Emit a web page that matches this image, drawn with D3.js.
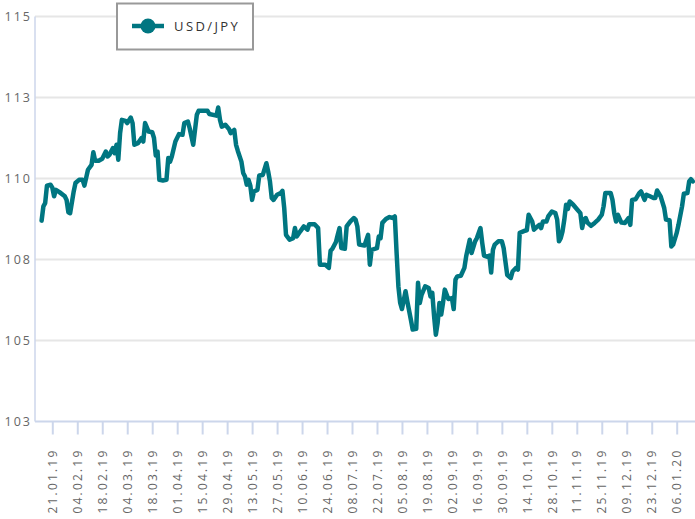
<!DOCTYPE html>
<html>
<head>
<meta charset="utf-8">
<script src="https://cdn.jsdelivr.net/npm/d3@7"></script>
<style>
  body { margin: 0; background: #fff; }
  text { font-family: "Open Sans", sans-serif; }
</style>
</head>
<body>
<svg id="chart"></svg>
<script>
const width = 695;
const height = 519;

const seriesName = "USD/JPY";

const dates = [
  "2019-01-15","2019-01-16","2019-01-17","2019-01-18","2019-01-20","2019-01-21","2019-01-22","2019-01-23","2019-01-25","2019-01-28",
  "2019-01-29","2019-01-30","2019-01-31","2019-02-02","2019-02-03","2019-02-05","2019-02-07","2019-02-08","2019-02-10","2019-02-12",
  "2019-02-13","2019-02-14","2019-02-16","2019-02-18","2019-02-20","2019-02-21","2019-02-22","2019-02-24","2019-02-25","2019-02-26",
  "2019-02-27","2019-02-28","2019-03-01","2019-03-03","2019-03-04","2019-03-06","2019-03-07","2019-03-08","2019-03-10","2019-03-12",
  "2019-03-13","2019-03-14","2019-03-16","2019-03-18","2019-03-19","2019-03-20","2019-03-21","2019-03-22","2019-03-24","2019-03-26",
  "2019-03-27","2019-03-28","2019-03-29","2019-03-31","2019-04-02","2019-04-04","2019-04-05","2019-04-07","2019-04-08","2019-04-10",
  "2019-04-12","2019-04-13","2019-04-18","2019-04-19","2019-04-23","2019-04-24","2019-04-25","2019-04-26","2019-04-28","2019-04-30",
  "2019-05-01","2019-05-03","2019-05-04","2019-05-05","2019-05-07","2019-05-08","2019-05-09","2019-05-10","2019-05-11","2019-05-12",
  "2019-05-13","2019-05-14","2019-05-16","2019-05-17","2019-05-19","2019-05-21","2019-05-22","2019-05-23","2019-05-24","2019-05-25",
  "2019-05-27","2019-05-29","2019-05-30","2019-05-31","2019-06-01","2019-06-03","2019-06-05","2019-06-06","2019-06-07","2019-06-09",
  "2019-06-11","2019-06-13","2019-06-14","2019-06-17","2019-06-19","2019-06-20","2019-06-23","2019-06-25","2019-06-26","2019-06-27",
  "2019-06-29","2019-06-30","2019-07-01","2019-07-02","2019-07-04","2019-07-05","2019-07-07","2019-07-09","2019-07-10","2019-07-11",
  "2019-07-12","2019-07-15","2019-07-17","2019-07-18","2019-07-19","2019-07-22","2019-07-23","2019-07-24","2019-07-25","2019-07-27",
  "2019-07-29","2019-07-31","2019-08-01","2019-08-02","2019-08-03","2019-08-04","2019-08-05","2019-08-07","2019-08-08","2019-08-10",
  "2019-08-11","2019-08-13","2019-08-14","2019-08-15","2019-08-16","2019-08-18","2019-08-20","2019-08-21","2019-08-22","2019-08-23",
  "2019-08-24","2019-08-25","2019-08-26","2019-08-27","2019-08-28","2019-08-29","2019-08-31","2019-09-02","2019-09-03","2019-09-04",
  "2019-09-05","2019-09-07","2019-09-09","2019-09-10","2019-09-12","2019-09-13","2019-09-15","2019-09-16","2019-09-18","2019-09-19",
  "2019-09-20","2019-09-22","2019-09-23","2019-09-24","2019-09-25","2019-09-26","2019-09-28","2019-09-30","2019-10-01","2019-10-03",
  "2019-10-05","2019-10-06","2019-10-08","2019-10-09","2019-10-10","2019-10-13","2019-10-14","2019-10-15","2019-10-17","2019-10-18",
  "2019-10-20","2019-10-21","2019-10-22","2019-10-23","2019-10-25","2019-10-26","2019-10-28","2019-10-30","2019-10-31","2019-11-01",
  "2019-11-02","2019-11-03","2019-11-04","2019-11-05","2019-11-06","2019-11-07","2019-11-09","2019-11-11","2019-11-13","2019-11-14",
  "2019-11-15","2019-11-16","2019-11-17","2019-11-19","2019-11-21","2019-11-23","2019-11-25","2019-11-26","2019-11-27","2019-11-30",
  "2019-12-01","2019-12-02","2019-12-03","2019-12-04","2019-12-06","2019-12-08","2019-12-10","2019-12-11","2019-12-12","2019-12-14",
  "2019-12-16","2019-12-17","2019-12-19","2019-12-20","2019-12-22","2019-12-24","2019-12-25","2019-12-26","2019-12-28","2019-12-30",
  "2019-12-31","2020-01-02","2020-01-03","2020-01-04","2020-01-06","2020-01-07","2020-01-09","2020-01-10","2020-01-12","2020-01-13",
  "2020-01-14","2020-01-15"
];

const rates = [
  108.70,109.14,109.24,109.78,109.81,109.72,109.45,109.65,109.58,109.45,
  109.34,108.96,108.93,109.60,109.86,109.96,109.96,109.78,110.27,110.42,
  110.81,110.55,110.55,110.61,110.83,110.68,110.73,110.94,110.78,111.04,
  110.58,111.40,111.81,111.78,111.71,111.88,111.71,111.04,111.09,111.25,
  111.14,111.71,111.45,111.43,111.25,110.71,110.83,109.96,109.94,109.96,
  110.63,110.52,110.68,111.14,111.37,111.35,111.71,111.76,111.55,111.04,
  111.96,112.09,112.09,111.99,111.94,112.19,111.81,111.60,111.66,111.53,
  111.40,111.50,111.04,110.85,110.52,110.17,110.06,109.81,109.96,109.78,
  109.34,109.60,109.65,110.09,110.11,110.47,110.22,109.91,109.40,109.34,
  109.50,109.55,109.62,109.09,108.26,108.11,108.16,108.47,108.21,108.37,
  108.52,108.42,108.59,108.59,108.47,107.34,107.34,107.24,107.77,107.83,
  108.04,108.26,108.47,107.85,107.83,108.52,108.67,108.78,108.73,108.52,
  107.96,107.93,108.26,107.34,107.80,107.85,108.21,108.16,108.63,108.75,
  108.81,108.78,108.83,107.70,106.67,106.16,105.97,106.52,106.21,105.64,
  105.34,105.36,106.78,106.16,106.41,106.67,106.62,106.36,106.47,105.75,
  105.18,105.54,106.16,105.80,106.16,106.57,106.28,106.31,105.97,106.88,
  106.98,107.00,107.24,107.60,108.11,107.70,108.06,108.16,108.47,108.01,
  107.62,107.58,107.62,107.10,107.80,107.96,108.06,108.06,107.85,107.02,
  106.93,107.13,107.24,107.19,108.32,108.39,108.40,108.88,108.67,108.42,
  108.52,108.57,108.47,108.67,108.67,108.83,108.98,108.93,108.73,108.06,
  108.16,108.37,108.73,109.19,109.06,109.29,109.19,109.06,108.93,108.47,
  108.73,108.78,108.64,108.54,108.63,108.73,108.88,109.14,109.55,109.55,
  109.34,108.93,108.67,108.88,108.64,108.63,108.78,108.57,109.34,109.36,
  109.55,109.60,109.34,109.50,109.45,109.40,109.40,109.63,109.45,109.09,
  108.73,108.71,107.90,107.96,108.32,108.57,109.14,109.53,109.55,109.91,
  109.98,109.91
];

const xTickLabels = [
  "21.01.19","04.02.19","18.02.19","04.03.19","18.03.19","01.04.19","15.04.19",
  "29.04.19","13.05.19","27.05.19","10.06.19","24.06.19","08.07.19","22.07.19",
  "05.08.19","19.08.19","02.09.19","16.09.19","30.09.19","14.10.19","28.10.19",
  "11.11.19","25.11.19","09.12.19","23.12.19","06.01.20"
];

const yTicks = [102.5, 105, 107.5, 110, 112.5, 115];

const parseDate = d3.timeParse("%Y-%m-%d");
const parseTick = d3.timeParse("%d.%m.%y");
const formatTick = d3.timeFormat("%d.%m.%y");

const data = dates.map((d, i) => ({ date: parseDate(d), value: rates[i] }));
const tickDates = xTickLabels.map(parseTick);

const plotLeft = 35, plotRight = 695, plotTop = 16.5, plotBottom = 421.5;

const svg = d3.select("#chart").attr("width", width).attr("height", height);

const x = d3.scaleTime()
  .domain([tickDates[0], tickDates[tickDates.length - 1]])
  .range([52.3, 676.7]);

const y = d3.scaleLinear()
  .domain([102.5, 115])
  .range([plotBottom, plotTop]);

// grid lines
svg.append("g")
  .selectAll("line")
  .data(yTicks.slice(1))
  .enter().append("line")
  .attr("x1", plotLeft)
  .attr("x2", plotRight)
  .attr("y1", d => y(d))
  .attr("y2", d => y(d))
  .attr("stroke", "#e6e6e6")
  .attr("stroke-width", 2);

// y axis labels
const yAxis = svg.append("g")
  .attr("transform", `translate(${plotLeft},0)`)
  .call(d3.axisLeft(y).tickValues(yTicks).tickSize(0).tickPadding(3).tickFormat(d3.format(".0f")));
yAxis.select(".domain").remove();
yAxis.selectAll("text")
  .attr("fill", "#666")
  .style("font-size", "12.5px")
  .style("letter-spacing", "2px");

svg.append("line")
  .attr("x1", plotLeft).attr("x2", plotLeft)
  .attr("y1", plotTop).attr("y2", plotBottom)
  .attr("stroke", "#ccd6eb")
  .attr("stroke-width", 1.5);

// x axis
const xAxis = svg.append("g")
  .attr("transform", `translate(0,${plotBottom})`)
  .call(d3.axisBottom(x).tickValues(tickDates).tickSize(13).tickFormat(formatTick));
xAxis.select(".domain")
  .attr("d", `M${plotLeft},0H${plotRight}`)
  .attr("stroke", "#ccd6eb")
  .attr("stroke-width", 2);
xAxis.selectAll(".tick line")
  .attr("stroke", "#ccd6eb")
  .attr("stroke-width", 2);
xAxis.selectAll("text")
  .attr("transform", "rotate(-90)")
  .attr("x", -27)
  .attr("y", 0)
  .attr("dy", "0.35em")
  .attr("text-anchor", "end")
  .attr("fill", "#666")
  .style("font-size", "12px")
  .style("letter-spacing", "2.2px");

// series
const line = d3.line()
  .x(d => x(d.date))
  .y(d => y(d.value));

svg.append("path")
  .datum(data)
  .attr("d", line)
  .attr("fill", "none")
  .attr("stroke", "#007681")
  .attr("stroke-width", 4.5)
  .attr("stroke-linejoin", "round")
  .attr("stroke-linecap", "round");

// legend
const legend = svg.append("g");
legend.append("rect")
  .attr("x", 117).attr("y", 3.5)
  .attr("width", 136).attr("height", 46)
  .attr("fill", "#fff")
  .attr("stroke", "#999")
  .attr("stroke-width", 2);
legend.append("line")
  .attr("x1", 132).attr("x2", 164)
  .attr("y1", 26).attr("y2", 26)
  .attr("stroke", "#007681")
  .attr("stroke-width", 4.5);
legend.append("circle")
  .attr("cx", 148).attr("cy", 26).attr("r", 7.5)
  .attr("fill", "#007681");
legend.append("text")
  .attr("x", 174).attr("y", 26)
  .attr("dy", "0.35em")
  .attr("fill", "#333")
  .style("font-size", "13px")
  .style("letter-spacing", "2.4px")
  .text(seriesName);
</script>
</body>
</html>
